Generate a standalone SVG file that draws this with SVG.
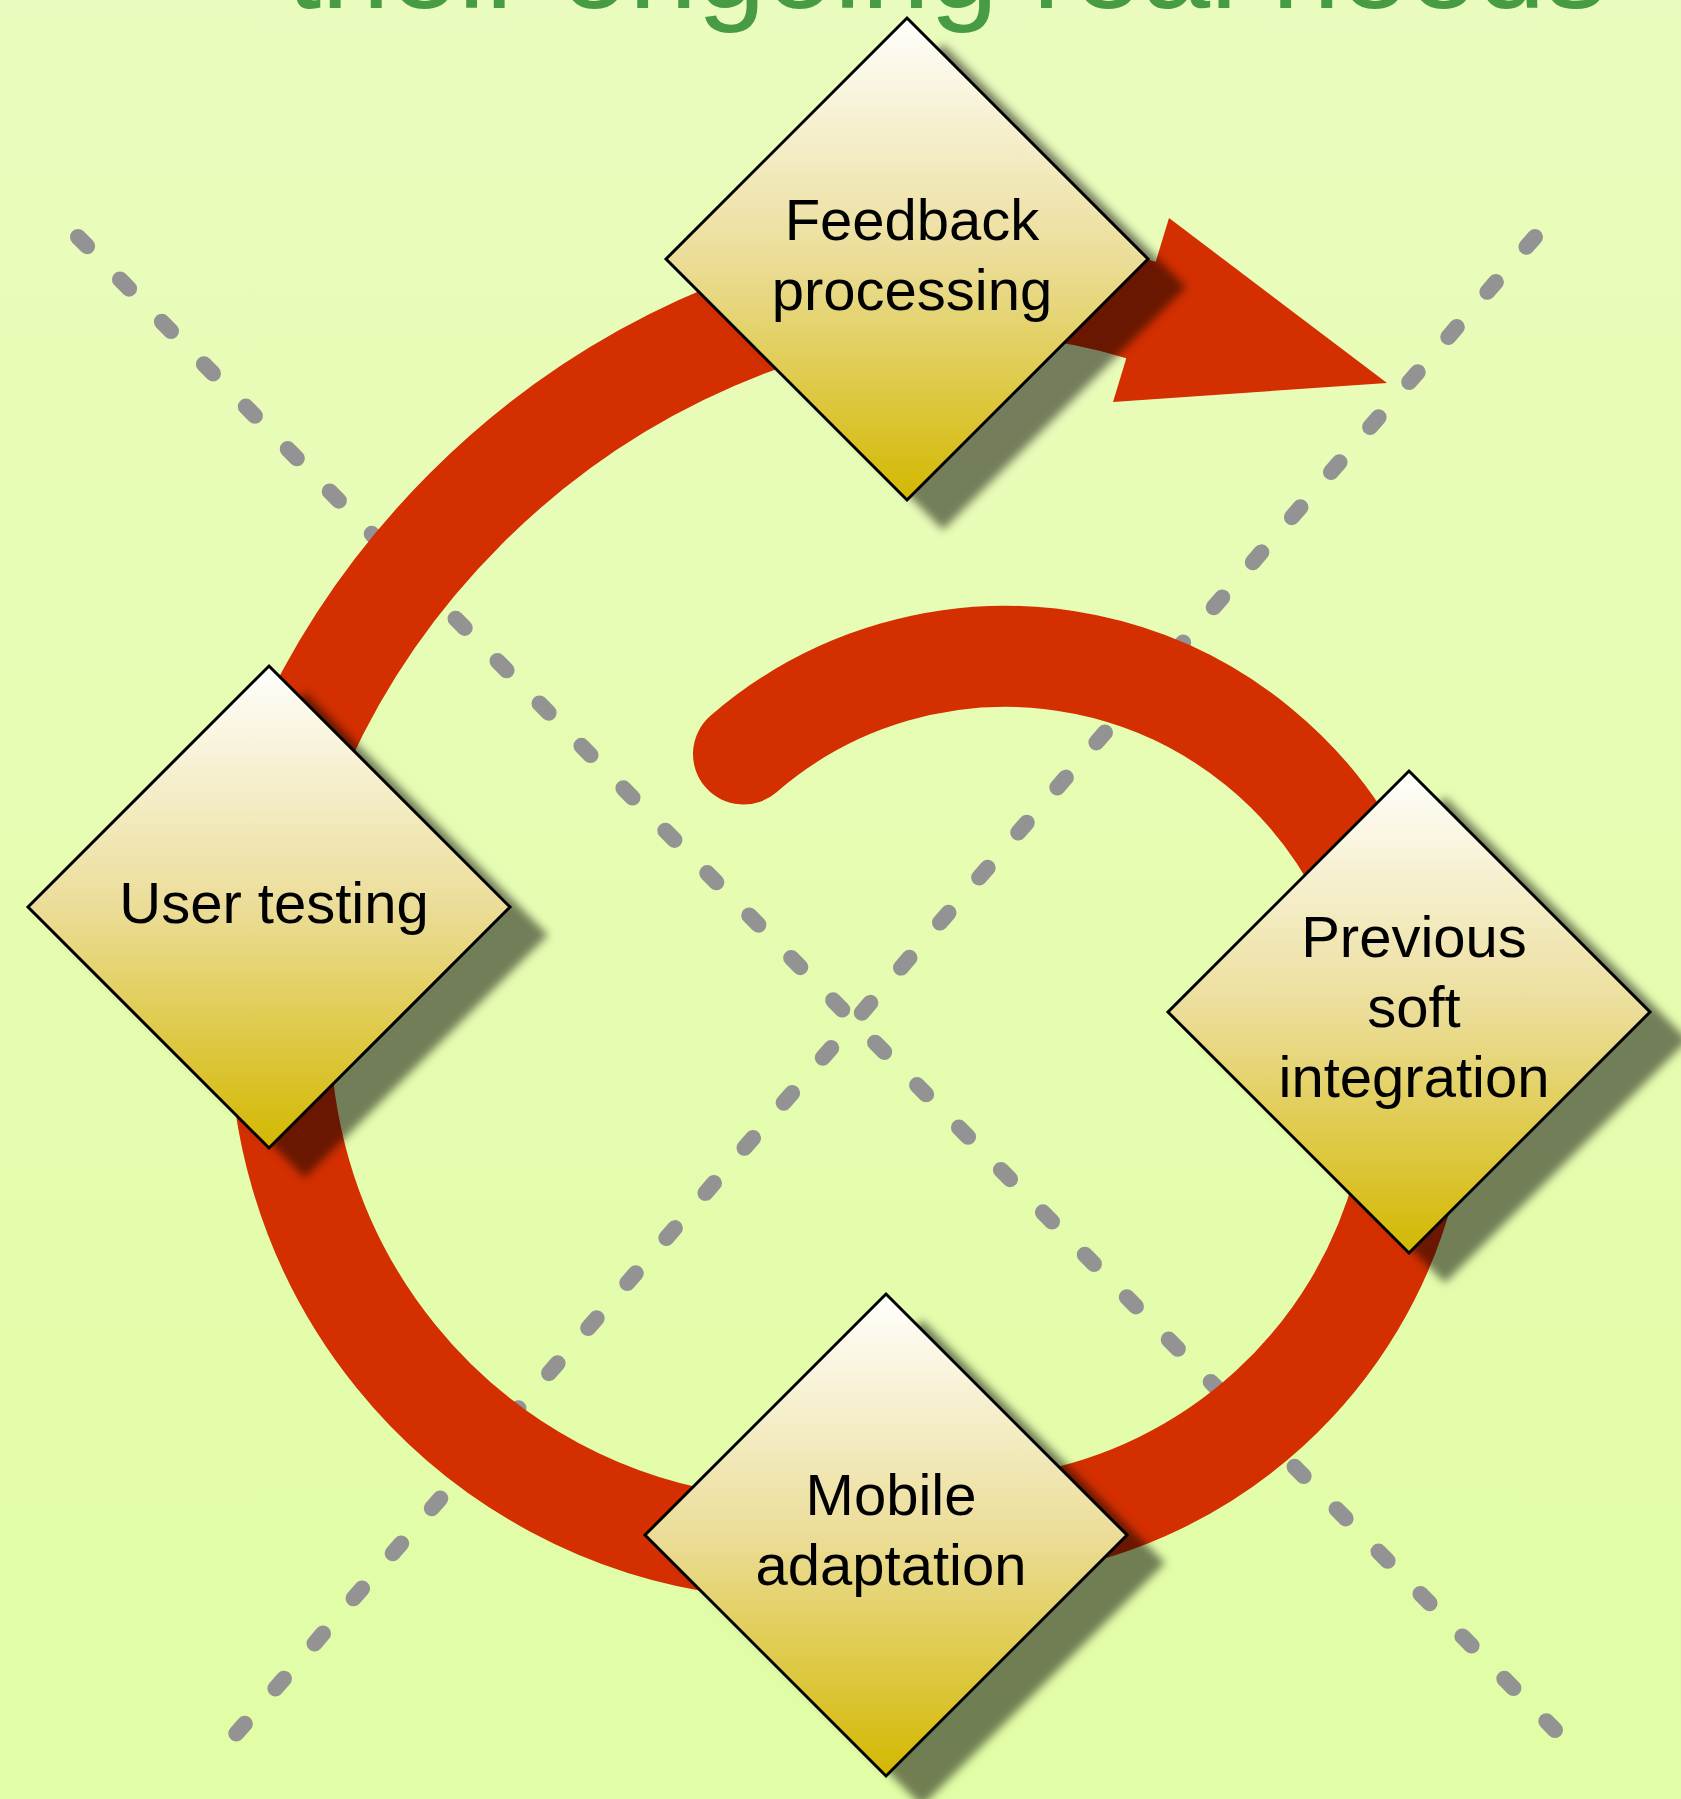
<svg xmlns="http://www.w3.org/2000/svg" width="1681" height="1799" viewBox="0 0 1681 1799">
  <defs>
    <linearGradient id="bg" x1="0" y1="0" x2="0" y2="1">
      <stop offset="0" stop-color="#eafcbd"/>
      <stop offset="1" stop-color="#e1fda5"/>
    </linearGradient>
    <linearGradient id="dia" x1="0" y1="0" x2="0" y2="1">
      <stop offset="0" stop-color="#fffffd"/>
      <stop offset="0.5" stop-color="#ebdd98"/>
      <stop offset="1" stop-color="#d3b800"/>
    </linearGradient>
    <filter id="shadow" x="-20%" y="-20%" width="150%" height="150%">
      <feDropShadow dx="36" dy="28" stdDeviation="4.5" flood-color="#000000" flood-opacity="0.5"/>
    </filter>
  </defs>
  <style>
    .dash { fill: none; stroke: #939393; stroke-width: 16; stroke-linecap: round; stroke-dasharray: 13 46.65; }
    .flow { fill: none; stroke: #d32f00; stroke-width: 101; stroke-linecap: round; stroke-linejoin: round; }
    .head { fill: #d32f00; }
    .shape { fill: url(#dia); stroke: #000000; stroke-width: 3; filter: url(#shadow); }
    .label { font-family: "Liberation Sans", Arial, sans-serif; font-size: 58px; fill: #000000; text-anchor: middle; }
    .title { font-family: "Liberation Sans", Arial, sans-serif; font-size: 123px; fill: #479c43; }
  </style>

  <rect x="0" y="0" width="1681" height="1799" fill="url(#bg)"/>

  <text class="title" x="287" y="8">their ongoing real needs</text>

  <g id="guides">
    <line class="dash" x1="78" y1="237" x2="1555" y2="1730"/>
    <line class="dash" x1="1535" y1="237" x2="235" y2="1735"/>
  </g>

  <g id="connectors">
    <path class="flow" d="M 743.5 754 A 400 400 0 0 1 1365 881.4 C 1409.4 976.6 1431 1086 1403.8 1187.4 A 461.5 461.5 0 0 1 1038.1 1522.5 C 939.6 1539.9 835.9 1557.3 736.6 1545.1 A 520 520 0 0 1 282 983.7 C 287.2 923.9 258 859.1 278.5 802.7 A 805 805 0 0 1 759.7 321.5 C 881.9 277 1016.6 272.3 1141 310"/>
    <polygon class="head" points="1169,218 1387,383 1113,402"/>
  </g>

  <g id="node-feedback">
    <polygon class="shape" points="907,18 1148,259 907,500 666,259"/>
    <text class="label" x="912" y="240">Feedback</text>
    <text class="label" x="912" y="310">processing</text>
  </g>

  <g id="node-user-testing">
    <polygon class="shape" points="269,666 510,907 269,1148 28,907"/>
    <text class="label" x="274" y="923">User testing</text>
  </g>

  <g id="node-previous">
    <polygon class="shape" points="1409,771 1650,1012 1409,1253 1168,1012"/>
    <text class="label" x="1414" y="957">Previous</text>
    <text class="label" x="1414" y="1027">soft</text>
    <text class="label" x="1414" y="1097">integration</text>
  </g>

  <g id="node-mobile">
    <polygon class="shape" points="886,1294 1127,1535 886,1776 645,1535"/>
    <text class="label" x="891" y="1515">Mobile</text>
    <text class="label" x="891" y="1585">adaptation</text>
  </g>
</svg>
